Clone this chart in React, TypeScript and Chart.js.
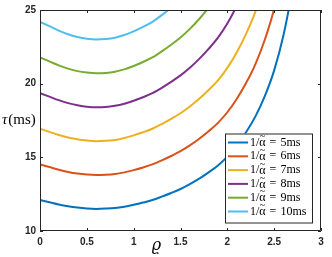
import React, { useEffect, useRef } from "react";
import { Chart, registerables } from "chart.js";

Chart.register(...registerables);

const rho = [0, 0.1, 0.2, 0.3, 0.4, 0.5, 0.6, 0.7, 0.8, 0.9, 1.0, 1.1, 1.2, 1.3, 1.4, 1.5, 1.6, 1.7, 1.8, 1.9, 2.0, 2.1, 2.2, 2.3, 2.4, 2.5, 2.6, 2.7];

const tau5 = [12.10, 11.95, 11.80, 11.68, 11.59, 11.53, 11.50, 11.52, 11.56, 11.65, 11.78, 11.93, 12.10, 12.33, 12.58, 12.85, 13.18, 13.55, 13.98, 14.45, 15.05, 15.80, 16.70, 17.78, 19.15, 20.90, 23.30, 26.50];
const tau6 = [14.52, 14.34, 14.16, 14.01, 13.90, 13.83, 13.80, 13.82, 13.87, 13.98, 14.13, 14.31, 14.52, 14.79, 15.09, 15.42, 15.81, 16.26, 16.77, 17.34, 18.06, 18.96, 20.04, 21.33, 22.98, 25.08, 27.96];
const tau7 = [16.94, 16.73, 16.52, 16.35, 16.22, 16.14, 16.10, 16.12, 16.18, 16.31, 16.49, 16.70, 16.94, 17.26, 17.61, 17.99, 18.45, 18.97, 19.57, 20.23, 21.07, 22.12, 23.38, 24.89, 26.81];
const tau8 = [19.36, 19.12, 18.88, 18.68, 18.54, 18.44, 18.40, 18.42, 18.50, 18.64, 18.84, 19.08, 19.36, 19.72, 20.12, 20.56, 21.08, 21.68, 22.36, 23.12, 24.08, 25.28, 26.72];
const tau9 = [21.78, 21.51, 21.24, 21.02, 20.85, 20.75, 20.70, 20.73, 20.81, 20.97, 21.20, 21.47, 21.78, 22.19, 22.64, 23.13, 23.72, 24.39, 25.16, 26.01];
const tau10 = [24.20, 23.90, 23.60, 23.35, 23.17, 23.05, 23.00, 23.03, 23.12, 23.30, 23.55, 23.85, 24.20, 24.65, 25.15, 25.70];

const seriesValues = [tau5, tau6, tau7, tau8, tau9, tau10];
const seriesLabels = ["5ms", "6ms", "7ms", "8ms", "9ms", "10ms"];
const seriesColors = ["#0072BD", "#D95319", "#EDB120", "#7E2F8E", "#77AC30", "#4DBEEE"];

const xTicks = [0, 0.5, 1, 1.5, 2, 2.5, 3];
const yTicks = [10, 15, 20, 25];

const AXIS = "#262626";

const decorPlugin = {
  id: "decor",
  afterDatasetsDraw(chart: any) {
    const { ctx, chartArea: a, scales } = chart;
    const xs = scales.x;
    const ys = scales.y;
    ctx.save();
    ctx.strokeStyle = AXIS;
    ctx.lineWidth = 1;
    ctx.beginPath();
    ctx.rect(a.left + 0.5, a.top + 0.5, a.right - a.left - 1, a.bottom - a.top - 1);
    ctx.stroke();
    const tl = 3;
    ctx.beginPath();
    xTicks.forEach((v) => {
      const p = Math.round(xs.getPixelForValue(v)) + 0.5;
      ctx.moveTo(p, a.bottom);
      ctx.lineTo(p, a.bottom - tl);
      ctx.moveTo(p, a.top);
      ctx.lineTo(p, a.top + tl);
    });
    yTicks.forEach((v) => {
      const p = Math.round(ys.getPixelForValue(v)) + 0.5;
      ctx.moveTo(a.left, p);
      ctx.lineTo(a.left + tl, p);
      ctx.moveTo(a.right, p);
      ctx.lineTo(a.right - tl, p);
    });
    ctx.stroke();

    // legend
    const lx = 225, ly = 133.5, lw = 88, lh = 90;
    ctx.fillStyle = "#ffffff";
    ctx.fillRect(lx, ly, lw, lh);
    ctx.strokeStyle = AXIS;
    ctx.strokeRect(lx + 0.5, ly + 0.5, lw - 1, lh - 1);
    const rowH = 13.8;
    chart.data.datasets.forEach((ds: any, i: number) => {
      const cy = 142.5 + i * rowH;
      ctx.strokeStyle = ds.borderColor;
      ctx.lineWidth = 2;
      ctx.beginPath();
      ctx.moveTo(228, cy);
      ctx.lineTo(248, cy);
      ctx.stroke();
      ctx.fillStyle = "#000000";
      ctx.textBaseline = "middle";
      ctx.textAlign = "left";
      ctx.font = "12px 'Liberation Serif'";
      let x = 250;
      ctx.fillText("1/", x, cy);
      x += ctx.measureText("1/").width;
      ctx.fillText("α", x, cy + 0.5);
      const aw = ctx.measureText("α").width;
      ctx.textAlign = "center";
      ctx.font = "10px 'Liberation Serif'";
      ctx.fillText("~", x + aw / 2, cy - 6);
      ctx.textAlign = "left";
      ctx.font = "12px 'Liberation Serif'";
      x += aw + 4;
      ctx.fillText("=", x, cy);
      x += ctx.measureText("=").width + 4;
      ctx.fillText(ds.label, x, cy);
    });
    ctx.restore();
  },
  afterDraw(chart: any) {
    const { ctx } = chart;
    ctx.save();
    ctx.fillStyle = "#000000";
    ctx.textBaseline = "middle";
    ctx.textAlign = "left";
    ctx.font = "italic 15px 'Liberation Serif'";
    ctx.fillText("τ", 2, 120);
    const w = ctx.measureText("τ").width;
    ctx.font = "15px 'Liberation Serif'";
    ctx.fillText("(ms)", 2 + w + 1, 120);
    ctx.font = "italic 16px 'DejaVu Serif'";
    ctx.textAlign = "center";
    ctx.fillText("ϱ", 156.5, 246);
    ctx.restore();
  },
};

export default function App() {
  const ref = useRef<HTMLCanvasElement | null>(null);
  useEffect(() => {
    if (!ref.current) return;
    const datasets = seriesValues.map((vals, i) => ({
      label: seriesLabels[i],
      data: vals.map((y, j) => ({ x: rho[j], y })),
      borderColor: seriesColors[i],
      backgroundColor: seriesColors[i],
      borderWidth: 2,
      pointRadius: 0,
      cubicInterpolationMode: "monotone" as const,
      fill: false,
      clip: 0,
    }));
    const tickFont = { family: "'Liberation Sans', Arial, sans-serif", size: 10, weight: "bold" as const };
    const chart = new Chart(ref.current, {
      type: "line",
      data: { datasets },
      options: {
        animation: false,
        responsive: false,
        layout: { padding: { top: 9, right: 11, left: 0, bottom: 0 } },
        plugins: { legend: { display: false }, tooltip: { enabled: false } },
        scales: {
          x: {
            type: "linear",
            min: 0,
            max: 3,
            grid: { display: false, drawTicks: false },
            border: { display: false },
            afterBuildTicks: (s: any) => { s.ticks = xTicks.map((v) => ({ value: v })); },
            afterFit: (s: any) => { s.height = 26; },
            ticks: { font: tickFont, color: AXIS, padding: 5, autoSkip: false, maxRotation: 0, callback: (v: any) => String(Number(v)) },
          },
          y: {
            type: "linear",
            min: 10,
            max: 25,
            grid: { display: false, drawTicks: false },
            border: { display: false },
            afterBuildTicks: (s: any) => { s.ticks = yTicks.map((v) => ({ value: v })); },
            afterFit: (s: any) => { s.width = 40; },
            ticks: { font: tickFont, color: AXIS, padding: 4, autoSkip: false, callback: (v: any) => String(Number(v)) },
          },
        },
      },
      plugins: [decorPlugin],
    });
    return () => chart.destroy();
  }, []);
  return (
    <div style={{ position: "absolute", left: 0, top: 0, width: 332, height: 257, background: "#ffffff" }}>
      <canvas ref={ref} width={332} height={257} style={{ display: "block", width: 332, height: 257 }} />
    </div>
  );
}
